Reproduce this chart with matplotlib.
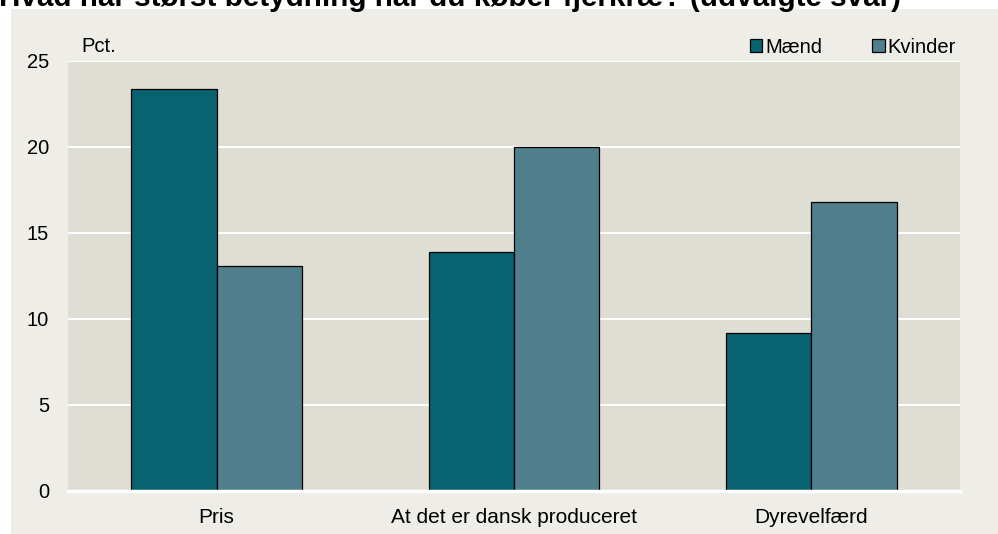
import matplotlib.pyplot as plt
import numpy as np
from matplotlib.patches import Rectangle

plt.rcParams['font.family'] = ['Liberation Sans', 'DejaVu Sans']

# data
categories = ["Pris", "At det er dansk produceret", "Dyrevelfærd"]
maend = [23.4, 13.9, 9.2]
kvinder = [13.1, 20.0, 16.8]
series_names = ["Mænd", "Kvinder"]
title = "Hvad har størst betydning når du køber fjerkræ? (udvalgte svar)"

W, H = 998, 534
fig = plt.figure(figsize=(W / 100, H / 100), dpi=100)
fig.patch.set_facecolor("white")

# outer panel
fig.patches.append(Rectangle((11 / W, 0), 1 - 11 / W, (H - 9) / H,
                             transform=fig.transFigure, facecolor="#EEEDE7",
                             edgecolor="none", zorder=0))

ax = fig.add_axes([68 / W, 1 - 491 / H, (960 - 68) / W, (491 - 61) / H])
ax.set_zorder(2)
ax.set_facecolor("#DFDED4")

x = np.arange(len(categories))
w = 0.287
ax.bar(x - w / 2, maend, w, color="#09626F", edgecolor="black", linewidth=0.9,
       label=series_names[0], zorder=3)
ax.bar(x + w / 2, kvinder, w, color="#4F7E8C", edgecolor="black", linewidth=0.9,
       label=series_names[1], zorder=3)

ax.set_xlim(-0.5, 2.5)
ax.set_ylim(0, 25)
ax.set_yticks([0, 5, 10, 15, 20, 25])
ax.grid(axis="y", color="white", linewidth=1.5, zorder=1)
ax.axhline(0, color="white", linewidth=2.5, zorder=4, clip_on=False)
for s in ax.spines.values():
    s.set_visible(False)
ax.tick_params(length=0, labelsize=14.5)
ax.tick_params(axis="x", pad=12, labelsize=15)
ax.tick_params(axis="y", pad=13.5)
ax.set_xticks(x)
ax.set_xticklabels(categories)

fig.text(81 / W, 1 - 47 / H, "Pct.", fontsize=14.5, va="center", zorder=5)

leg = ax.legend(loc="lower right", bbox_to_anchor=(1.0, 1.0), ncol=2,
                frameon=False, fontsize=14.5, handlelength=0.6,
                handleheight=0.6, handletextpad=0.15, columnspacing=2.5,
                borderaxespad=0.0, borderpad=0.2)

fig.text(-0.001, 1 - 6 / H, title, fontsize=21.3, fontweight="bold",
         va="baseline", ha="left", zorder=5)

fig.savefig("out.png", dpi=100, facecolor=fig.get_facecolor())
